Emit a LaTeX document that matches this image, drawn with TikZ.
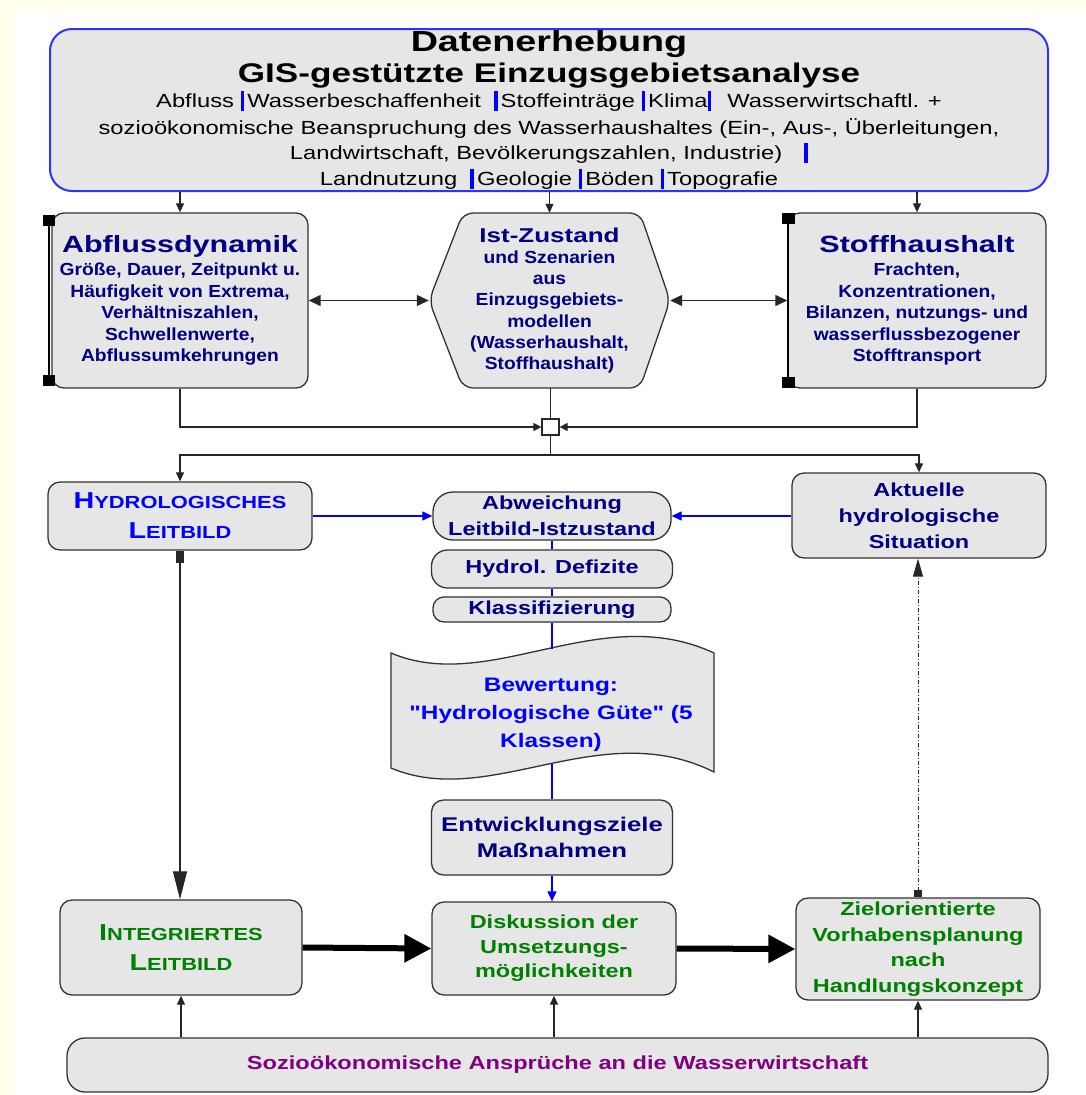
\documentclass[tikz,border=0pt]{standalone}
\usepackage{fontspec}
\setmainfont{Liberation Sans}
\newfontfamily\Hf[FakeStretch=1.3]{Liberation Sans}
\newfontfamily\Mf[FakeStretch=1.25]{Liberation Sans}
\newfontfamily\Sf[FakeStretch=1.1]{Liberation Sans}
\newfontfamily\Rf[FakeStretch=1.25]{Liberation Sans}
\usetikzlibrary{arrows.meta}
\definecolor{boxfill}{HTML}{E6E6E6}
\definecolor{navy}{HTML}{000080}
\definecolor{pblue}{HTML}{0000FF}
\definecolor{tblue}{HTML}{3030FF}
\definecolor{dgreen}{HTML}{008000}
\definecolor{purp}{HTML}{800080}
\definecolor{bgyel}{HTML}{FFFFEC}
\newcommand\vb{{\color{pblue}\rule[-3.5pt]{3.6pt}{20pt}}\hspace{3pt}}
\begin{document}
\begin{tikzpicture}[x=1pt,y=-1pt,
  box/.style={draw=black!80,line width=1.3pt,fill=boxfill,rounded corners=12pt,inner sep=0pt,align=center},
  conn/.style={draw=black!85,line width=1.2pt},
  arr/.style={conn,-{Triangle[length=9pt,width=8pt]}},
  darr/.style={conn,{Triangle[length=12pt,width=11pt]}-{Triangle[length=12pt,width=11pt]}},
  jarr/.style={conn,-{Triangle[length=8pt,width=8pt]}},
  bline/.style={draw=pblue,line width=1.1pt},
  barr/.style={bline,-{Triangle[length=10pt,width=9pt]}},
  thk/.style={draw=black,line width=6pt,-{Triangle[length=27pt,width=27pt]}},
  mtext/.style={font=\Mf\bfseries\fontsize{18.8}{26}\selectfont}
]
\useasboundingbox (0,0) rectangle (1086,1095);
\fill[bgyel] (0,0) rectangle (1086,1095);
\fill[white] (15,10) rectangle (1086,1095);

% top box
\node[box,draw=tblue,line width=2pt,rounded corners=22pt,minimum width=998pt,minimum height=162pt,
  font=\Rf\fontsize{19}{25.5}\selectfont] (top) at (549,110)
  {{\Hf\bfseries\fontsize{29}{30}\selectfont Datenerhebung}\\[3.5pt]
   {\Hf\bfseries\fontsize{27}{29}\selectfont GIS-gestützte Einzugsgebietsanalyse}\\[-0.5pt]
   Abfluss \vb Wasserbeschaffenheit\ \ \vb Stoffeinträge \vb Klima\vb\ \ Wasserwirtschaftl. +\\[1.5pt]
   sozioökonomische Beanspruchung des Wasserhaushaltes (Ein-, Aus-, Überleitungen,\\
   Landwirtschaft, Bevölkerungszahlen, Industrie)\hspace{22pt}\vb\\
   Landnutzung\ \ \vb Geologie \vb Böden \vb Topografie};

% row 2
\node[box,minimum width=256pt,minimum height=175pt,text=navy,
  font=\Sf\bfseries\fontsize{17.5}{21.5}\selectfont] (abf) at (180,300.5)
  {{\Hf\fontsize{23.5}{23}\selectfont Abflussdynamik}\\[1.5pt]
   Größe, Dauer, Zeitpunkt u.\\ Häufigkeit von Extrema,\\ Verhältniszahlen,\\ Schwellenwerte,\\ Abflussumkehrungen};
\draw[line width=1.2pt] (49,220) -- (49,381);
\fill (43,215) rectangle (55,226);
\fill (43,375) rectangle (55,386);

\filldraw[fill=boxfill,draw=black!80,line width=1.3pt,rounded corners=10pt]
  (429,300.5) -- (463,213) -- (640,213) -- (670,300.5) -- (640,388) -- (463,388) -- cycle;
\node[inner sep=0pt,minimum width=241pt,minimum height=175pt,align=center,text=navy,
  font=\Sf\bfseries\fontsize{17.5}{21.2}\selectfont] (ist) at (549.5,300.5)
  {{\Hf\fontsize{20}{20}\selectfont Ist-Zustand}\\
   und Szenarien\\ aus\\ Einzugsgebiets-\\ modellen\\ (Wasserhaushalt,\\ Stoffhaushalt)};

\node[box,minimum width=258pt,minimum height=175pt,text=navy,
  font=\Sf\bfseries\fontsize{17.5}{21.5}\selectfont] (sto) at (917,300.5)
  {{\Hf\fontsize{23.5}{23}\selectfont Stoffhaushalt}\\[1.5pt]
   Frachten,\\ Konzentrationen,\\ Bilanzen, nutzungs- und\\ wasserflussbezogener\\ Stofftransport};
\draw[line width=1.2pt] (788,218) -- (788,383);
\fill (782,213) rectangle (795,224);
\fill (782,377) rectangle (795,388);

\draw[arr] (top.south -| abf.north) -- (abf.north);
\draw[arr] (top.south -| ist.north) -- (ist.north);
\draw[arr] (top.south -| sto.north) -- (sto.north);
\draw[darr] (abf.east) -- (ist.west);
\draw[darr] (ist.east) -- (sto.west);

% junction
\node[draw=black!85,line width=1.2pt,fill=white,minimum width=17pt,minimum height=16pt,inner sep=0pt] (j) at (550.5,427) {};
\draw[jarr] (abf.south) -- (abf.south |- j.west) -- (j.west);
\draw[jarr] (sto.south) -- (sto.south |- j.east) -- (j.east);
\draw[conn] (ist.south -| j.north) -- (j.north);
\coordinate (jb) at (550.5,455);

% row 3
\node[box,minimum width=264pt,minimum height=68pt,text=pblue,font=\Mf\bfseries\fontsize{17.5}{30}\selectfont] (hyd) at (180,516)
  {{\fontsize{23}{30}\selectfont H}YDROLOGISCHES\\ {\fontsize{23}{30}\selectfont L}EITBILD};
\node[box,minimum width=238pt,minimum height=48pt,rounded corners=20pt,text=navy,mtext] (abw) at (552,516)
  {Abweichung\\ Leitbild-Istzustand};
\node[box,minimum width=254pt,minimum height=85pt,text=navy,font=\Mf\bfseries\fontsize{18.8}{25.8}\selectfont] (akt) at (919,515.5)
  {Aktuelle\\ hydrologische\\ Situation};
\node[box,minimum width=241pt,minimum height=38pt,rounded corners=16pt,text=navy,mtext] (def) at (552,569)
  {Hydrol. Defizite};
\node[box,minimum width=238pt,minimum height=25pt,rounded corners=11pt,text=navy,mtext] (kla) at (552,609.5)
  {Klassifizierung};

\draw[arr] (jb) -| (hyd.north);
\draw[arr] (j.south) -- (jb) -| (akt.north);
\draw[barr] (hyd.east) -- (abw.west);
\draw[barr] (akt.west |- abw.east) -- (abw.east);
\draw[bline] (abw.south) -- (def.north);
\draw[bline] (def.south) -- (kla.north);

% Bewertung (tape)
\filldraw[fill=boxfill,draw=black!80,line width=1.3pt]
  (391,653) .. controls (490,695) and (600,600) .. (714,653) -- (714,772)
  .. controls (600,715) and (490,810) .. (391,768) -- cycle;
\node[inner sep=0pt,align=center,text=pblue,font=\Mf\bfseries\fontsize{19.5}{28}\selectfont] (bew) at (551,715)
  {Bewertung:\\ "Hydrologische Güte" (5\\ Klassen)};
\coordinate (bewtop) at (552,649);
\coordinate (bewbot) at (552,764);
\draw[bline] (kla.south) -- (bewtop);

\node[box,minimum width=241pt,minimum height=75pt,text=navy,font=\Hf\bfseries\fontsize{19.8}{26}\selectfont] (ent) at (552,837.5)
  {Entwicklungsziele\\ Maßnahmen};
\draw[bline] (bewbot) -- (ent.north);

% row 5
\node[box,minimum width=242pt,minimum height=95pt,text=dgreen,font=\Mf\bfseries\fontsize{17.5}{30}\selectfont] (int) at (181,947.5)
  {{\fontsize{23}{30}\selectfont I}NTEGRIERTES\\ {\fontsize{23}{30}\selectfont L}EITBILD};
\node[box,minimum width=244pt,minimum height=93pt,text=dgreen,font=\Mf\bfseries\fontsize{18.8}{24.5}\selectfont] (dis) at (554,948.5)
  {Diskussion der\\ Umsetzungs-\\ möglichkeiten};
\node[box,minimum width=244pt,minimum height=102pt,text=dgreen,font=\Mf\bfseries\fontsize{18.8}{25.5}\selectfont] (zie) at (918,949)
  {Zielorientierte\\ Vorhabensplanung\\ nach\\ Handlungskonzept};

\draw[barr] (ent.south) -- (ent.south |- dis.north);
\draw[conn,{Square[length=12pt,width=8pt]}-{Triangle[length=28pt,width=14pt]}] (hyd.south) -- (hyd.south |- int.north);
\draw[conn,line width=0.9pt,dash pattern=on 4pt off 2pt on 1pt off 2pt,{Square[length=7pt,width=8pt]}-{Triangle[length=18pt,width=10pt]}] (zie.north) -- (zie.north |- akt.south);
\draw[thk] (int.east) -- (dis.west);
\draw[thk] (dis.east) -- (zie.west);

% row 6
\node[box,minimum width=981pt,minimum height=54pt,rounded corners=18pt,text=purp,font=\Mf\bfseries\fontsize{18.9}{24}\selectfont] (soz) at (557.5,1065)
  {Sozioökonomische Ansprüche an die Wasserwirtschaft};
\draw[arr] (soz.north -| int.south) -- (int.south);
\draw[arr] (soz.north -| dis.south) -- (dis.south);
\draw[arr] (soz.north -| zie.south) -- (zie.south);
\end{tikzpicture}
\end{document}
